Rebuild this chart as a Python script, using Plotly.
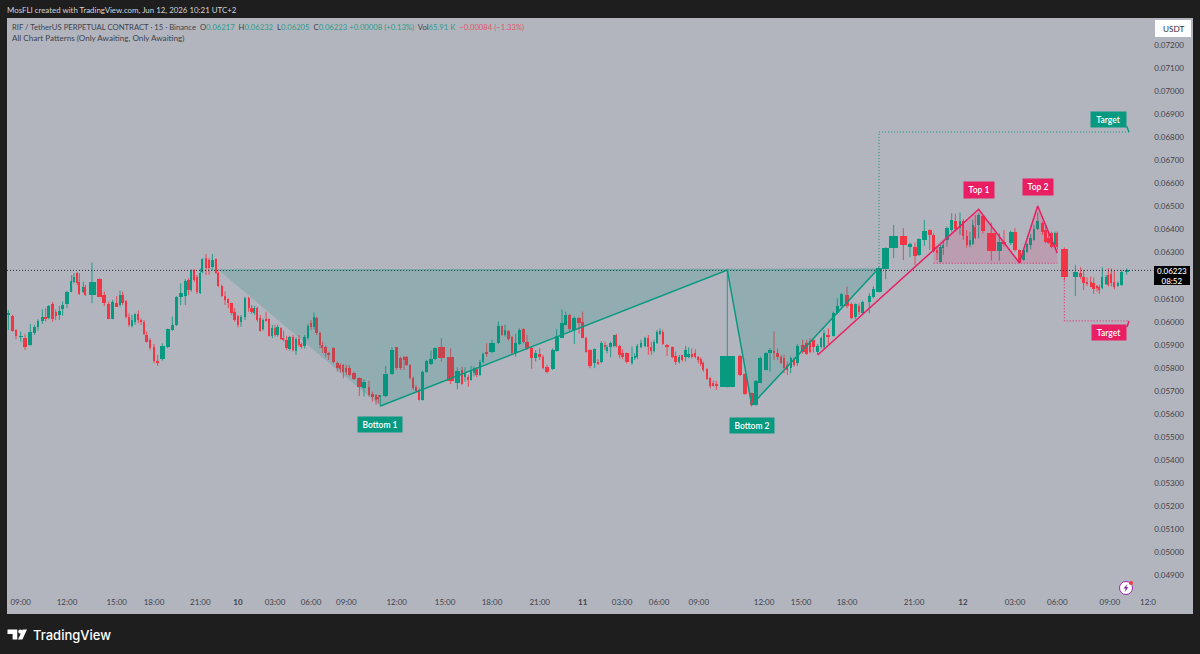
import numpy as np
import plotly.graph_objects as go

PRICE_SCALE = 100000.0
opens = [
 6031,6026,5965,5935,5929,5898,5953,5976,6002,6020,
 6015,6078,6044,6028,6056,6076,6131,6174,6211,6172,
 6131,6150,6117,6185,6117,6078,6014,6081,6073,6117,
 6091,6020,5982,6001,6034,6008,6001,5943,5922,5890,
 5832,5838,5893,5965,5987,6109,6112,6182,6138,6225,
 6193,6124,6218,6276,6268,6239,6271,6211,6156,6112,
 6098,6081,6044,6026,6000,6023,6102,6059,6037,6059,
 6015,5968,6011,6013,5939,5972,5943,5972,5929,5922,
 5881,5936,5875,5924,5904,5896,5929,5994,5976,6018,
 5953,5900,5893,5867,5885,5823,5813,5813,5799,5799,
 5780,5755,5712,5719,5687,5683,5676,5676,5679,5773,
 5890,5842,5849,5849,5813,5755,5719,5705,5661,5784,
 5817,5838,5893,5846,5737,5791,5763,5763,5748,5777,
 5796,5770,5828,5868,5868,5910,5982,5943,5961,5933,
 5864,5904,5969,5914,5888,5842,5861,5849,5806,5794,
 5875,5932,5987,6030,5965,6015,6001,5932,5878,5820,
 5828,5826,5900,5874,5890,5896,5943,5896,5864,5864,
 5823,5842,5849,5890,5896,5929,5893,5875,5910,5948,
 5958,5901,5890,5852,5828,5857,5846,5849,5861,5864,
 5846,5838,5823,5794,5758,5737,5731,5719,5852,5774,
 5690,5640,5737,5791,5864,5875,5864,5846,5842,5813,
 5799,5838,5820,5900,5910,5919,5922,5868,5893,5893,
 5940,5939,6037,6069,6117,6078,6023,6069,6037,6088,
 6109,6131,6231,6319,6372,6326,6326,6290,6355,6398,
 6375,6312,6261,6319,6355,6398,6435,6406,6439,6370,
 6333,6338,6413,6420,6459,6387,6309,6348,6341,6390,
 6312,6268,6304,6333,6355,6401,6427,6398,6362,6384,
 6333,6387,6315,6196,6213,6193,6174,6174,6167,6156,
 6153,6146,6164,6203,6208,6174,6156,6160,6217]
highs = [
 6052,6030,5968,5958,5946,5991,5987,6011,6054,6059,
 6073,6086,6054,6069,6088,6134,6203,6211,6215,6211,
 6174,6160,6257,6189,6131,6088,6095,6112,6135,6131,
 6095,6037,6030,6037,6049,6015,6008,5958,5929,5904,
 5857,5907,5971,6023,6112,6167,6185,6189,6228,6228,
 6203,6232,6276,6294,6276,6294,6276,6218,6160,6131,
 6102,6083,6059,6030,6030,6109,6109,6073,6069,6066,
 6030,6015,6044,6015,5987,5987,5987,5976,5962,5939,
 5939,5943,5933,5943,5910,5943,5991,6008,6040,6023,
 5958,5914,5896,5871,5890,5828,5820,5817,5813,5813,
 5784,5760,5751,5745,5698,5687,5683,5679,5809,5890,
 5890,5849,5852,5852,5817,5763,5726,5712,5789,5835,
 5875,5890,5929,5885,5803,5806,5803,5770,5809,5806,
 5803,5835,5867,5907,5922,6001,5985,5987,5965,5939,
 5948,5972,5972,5943,5893,5878,5885,5857,5813,5885,
 5968,6054,6044,6034,6023,6020,6044,5936,5881,5885,
 5838,5916,5914,5900,5914,5943,5948,5900,5881,5867,
 5893,5864,5904,5922,5936,5943,5914,5922,5965,5972,
 5965,5904,5893,5871,5857,5857,5896,5890,5885,5881,
 5852,5846,5828,5799,5760,5745,5745,6225,5857,5777,
 5693,5748,5849,5867,5885,5958,5885,5857,5857,5828,
 5849,5846,5903,5922,5922,5929,5924,5904,5936,5965,
 5972,6044,6102,6124,6153,6083,6080,6080,6092,6124,
 6153,6237,6323,6420,6406,6343,6343,6362,6442,6401,
 6384,6323,6333,6348,6413,6471,6468,6474,6445,6398,
 6391,6442,6463,6471,6463,6430,6384,6398,6395,6406,
 6315,6315,6341,6381,6420,6474,6435,6420,6391,6391,
 6391,6391,6323,6247,6237,6225,6193,6196,6193,6160,
 6160,6237,6203,6232,6232,6225,6174,6225,6232]
lows = [
 5965,5958,5924,5914,5878,5896,5943,5962,5991,6001,
 6011,6001,6008,6008,6026,6059,6128,6167,6160,6117,
 6124,6112,6081,6107,6069,6011,6011,6066,6066,6073,
 6015,5979,5976,5987,5994,5987,5943,5910,5878,5820,
 5809,5832,5885,5962,5982,6073,6073,6117,6131,6174,
 6121,6121,6211,6203,6203,6222,6208,6150,6109,6073,
 6059,6030,6001,5976,5979,6008,6044,6034,6030,6001,
 5958,5962,6001,5936,5929,5936,5936,5922,5914,5878,
 5875,5871,5857,5893,5885,5885,5924,5965,5968,5943,
 5885,5864,5846,5835,5820,5784,5780,5755,5770,5763,
 5748,5679,5676,5676,5654,5640,5647,5633,5673,5770,
 5792,5791,5791,5809,5751,5705,5698,5659,5659,5780,
 5813,5835,5828,5731,5708,5727,5741,5719,5745,5763,
 5760,5765,5820,5849,5864,5904,5939,5936,5919,5857,
 5849,5900,5907,5878,5796,5828,5835,5794,5777,5791,
 5871,5929,5984,5962,5904,5950,5929,5867,5799,5799,
 5813,5820,5878,5864,5846,5890,5890,5842,5838,5820,
 5813,5835,5838,5885,5890,5857,5857,5867,5904,5943,
 5900,5852,5842,5813,5820,5828,5828,5842,5842,5842,
 5820,5809,5784,5748,5712,5719,5705,5716,5765,5683,
 5633,5637,5734,5789,5784,5835,5835,5817,5777,5770,
 5777,5806,5809,5861,5857,5864,5867,5859,5885,5885,
 5904,5936,6034,6066,6059,6011,6011,6030,6034,6037,
 6102,6127,6185,6276,6268,6280,6247,6286,6329,6312,
 6300,6268,6257,6290,6326,6391,6391,6377,6355,6323,
 6323,6333,6358,6362,6384,6265,6265,6326,6333,6304,
 6254,6265,6300,6315,6352,6398,6377,6341,6338,6319,
 6319,6312,6179,6112,6185,6138,6156,6150,6121,6131,
 6121,6141,6160,6153,6153,6141,6153,6156,6205]
closes = [
 6037,5962,5939,5938,5890,5955,5976,6002,6020,6014,
 6070,6011,6026,6049,6072,6131,6177,6193,6167,6121,
 6153,6117,6173,6109,6081,6014,6088,6066,6117,6081,
 6020,5985,6008,6034,6008,5999,5946,5914,5885,5831,
 5823,5896,5968,5987,6109,6124,6179,6138,6225,6182,
 6128,6213,6274,6232,6232,6268,6211,6156,6112,6095,
 6081,6037,6008,5987,6023,6102,6059,6044,6059,6008,
 5962,6008,6005,5939,5972,5943,5976,5924,5922,5885,
 5933,5878,5924,5900,5893,5933,5982,5976,6020,5950,
 5900,5885,5864,5857,5828,5799,5794,5784,5784,5770,
 5751,5716,5741,5682,5676,5661,5664,5679,5774,5878,
 5799,5799,5835,5813,5755,5712,5702,5661,5784,5831,
 5838,5885,5842,5745,5787,5731,5777,5748,5791,5799,
 5770,5828,5861,5859,5910,5982,5943,5965,5924,5867,
 5907,5965,5914,5885,5845,5867,5846,5802,5784,5878,
 5939,5994,6030,5968,6015,5997,5932,5871,5809,5881,
 5820,5910,5890,5890,5907,5943,5896,5857,5846,5828,
 5849,5852,5896,5910,5929,5893,5875,5914,5958,5962,
 5904,5894,5849,5825,5849,5835,5878,5861,5849,5846,
 5835,5817,5791,5752,5722,5722,5722,5852,5770,5686,
 5640,5745,5842,5864,5878,5864,5846,5823,5799,5791,
 5842,5813,5896,5871,5861,5871,5893,5897,5929,5953,
 5936,6037,6069,6120,6069,6015,6078,6044,6088,6112,
 6141,6232,6319,6372,6333,6338,6286,6358,6395,6377,
 6309,6297,6323,6333,6406,6442,6401,6435,6370,6333,
 6355,6420,6362,6463,6394,6309,6346,6338,6390,6312,
 6257,6312,6338,6362,6401,6437,6391,6348,6341,6326,
 6387,6323,6193,6216,6193,6167,6163,6153,6141,6146,
 6138,6193,6193,6160,6167,6150,6167,6218,6223]
# volume-weighted bar spacing (bars are drawn with width following volume)
bar_steps = [
 13,10,14,13,16,13,10,13,10,9,12,9,11,10,13,14,7,10,6,12,6,20,23,14,13,12,12,10,8,10,
 9,9,9,10,8,9,8,10,12,11,14,16,14,12,13,14,10,8,9,8,10,7,10,9,10,11,7,10,10,10,
 10,9,10,9,12,11,9,9,8,9,8,9,9,10,8,8,10,8,9,9,10,9,9,8,9,10,9,9,8,10,
 8,9,9,14,12,9,9,9,9,14,16,14,15,10,11,7,6,16,19,14,12,10,8,10,10,8,10,10,12,13,
 12,19,28,20,14,9,10,8,9,8,10,9,11,16,19,11,9,10,11,11,11,12,11,14,12,12,10,12,17,12,
 16,11,12,14,14,11,10,12,14,10,10,11,6,11,10,7,10,9,12,16,8,8,11,12,10,9,8,9,9,8,
 13,16,10,11,9,10,9,9,11,9,7,8,11,10,9,9,33,38,15,20,13,13,17,12,12,11,10,9,10,10,
 10,10,16,12,10,10,13,11,8,13,15,12,12,17,13,12,11,11,20,12,17,20,24,29,20,15,12,16,16,12,
 10,11,8,11,14,11,14,10,10,10,8,8,10,13,25,24,14,20,13,13,13,10,11,10,11,15,9,9,9,10,
 7,21,33,16,9,10,11,9,10,7,9,11,7,9,9,11,11,15]
largest_volume_bar = 197
largest_volume_width = 44
# 0.06200 sits behind the last-price tag in the reference, so it is not drawn
price_ticks = [0.049,0.050,0.051,0.052,0.053,0.054,0.055,0.056,0.057,0.058,0.059,0.060,
               0.061,0.063,0.064,0.065,0.066,0.067,0.068,0.069,0.070,0.071,0.072]
time_labels = ["09:00","12:00","15:00","18:00","21:00","<b>10</b>","03:00","06:00","09:00","12:00",
               "15:00","18:00","21:00","<b>11</b>","03:00","06:00","09:00","12:00","15:00","18:00",
               "21:00","<b>12</b>","03:00","06:00","09:00","12:0"]
time_bars = [3,15,27,39,51,63,75,87,98,110,122.4,134,146,156,167.8,178.7,190.2,202.65,212.7,224,
             235.8,247.9,259,271,283.5,294.1]

# Pattern anchors: bar number + price
green_bars = [107,197,200,231]
green_prices = [0.05635,0.06225,0.05640,0.06233]
green_fill_start = (57,0.06225)
green_target_price = 0.06823
green_neck_price = 0.06225
red_bars = [217,253,260,265,271]
red_prices = [0.05856,0.06488,0.06256,0.06502,0.06298]
red_neck_price = 0.06254
red_target_price = 0.06004
red_target_start = (272,0.06189)
red_fill_start = (240,0.06324)
last_close = closes[-1]/PRICE_SCALE

GREEN = "#089981"; RED = "#F23645"; PINK = "#E91E63"
BG = "#B2B5BE"; DARK = "#1E1E1E"; TXT = "#3f424d"
DOT = "1px,2px"

assert len(opens)==len(highs)==len(lows)==len(closes), (len(opens),len(highs),len(lows),len(closes))
n = len(opens)
steps = (bar_steps + [10]*n)[:n-1]
o,h,l,c = [np.array(a)/PRICE_SCALE for a in (opens,highs,lows,closes)]
xs = 25.0 + np.concatenate([[0],np.cumsum(steps)])
prev = np.array([steps[0]]+list(steps)); nxt = np.array(list(steps)+[steps[-1]])
ws = np.minimum(0.65*(prev+nxt)-6.5, 1.25*np.minimum(prev,nxt)-4)
ws = np.clip(ws, 3.6, None)
ws[largest_volume_bar] = largest_volume_width

idx_ext = np.arange(n+12)
xs_ext = np.concatenate([xs, xs[-1]+10.5*np.arange(1,13)])
def bar_x(b): return float(np.interp(b, idx_ext, xs_ext))

L,R,T,B = 7,1193,18,614
def px(x): return (x-L)/(R-L)
def py(y): return 1-(y-T)/(B-T)

up = c>=o
fig = go.Figure()
fig.add_trace(go.Bar(x=xs, base=np.minimum(o,c), y=np.abs(o-c), width=ws,
    marker=dict(color=[GREEN if u else RED for u in up], line_width=0), hoverinfo="skip", showlegend=False))
for col,mask in ((GREEN,up),(RED,~up)):
    wx,wy=[],[]
    for xi,hi,lo in zip(xs[mask],h[mask],l[mask]):
        wx+= [xi,xi,None]; wy+=[hi,lo,None]
    fig.add_trace(go.Scatter(x=wx,y=wy,mode="lines",line=dict(color=col,width=1),opacity=0.85,hoverinfo="skip",showlegend=False))

def line(x,y,color,width=1.5,dash=None):
    fig.add_trace(go.Scatter(x=x,y=y,mode="lines",line=dict(color=color,width=width,dash=dash),hoverinfo="skip",showlegend=False))

line([21,bar_x(n-1+7.6)],[last_close,last_close],"#2a2e39",1,DOT)

gx=[bar_x(b) for b in green_bars]
fig.add_trace(go.Scatter(x=[bar_x(green_fill_start[0])]+gx+[bar_x(green_fill_start[0])],
    y=[green_fill_start[1]]+green_prices+[green_fill_start[1]],mode="lines",fill="toself",
    fillcolor="rgba(0,140,130,0.18)",line=dict(width=0),hoverinfo="skip",showlegend=False))
line(gx,green_prices,GREEN,1.5)
line([bar_x(green_fill_start[0]),gx[-1]],[green_neck_price]*2,GREEN,1,DOT)
target_end = xs[-1]+7
line([gx[-1],gx[-1],target_end],[green_neck_price,green_target_price,green_target_price],GREEN,1,DOT)
line([target_end-7,target_end],[0.06848,green_target_price],GREEN,1.5)

rx=[bar_x(b) for b in red_bars]
fig.add_trace(go.Scatter(x=[bar_x(red_fill_start[0])]+rx[1:]+[rx[-1],bar_x(red_fill_start[0])],
    y=[red_fill_start[1]]+red_prices[1:]+[red_neck_price,red_neck_price],mode="lines",fill="toself",
    fillcolor="rgba(233,30,99,0.16)",line=dict(width=0),hoverinfo="skip",showlegend=False))
line(rx,red_prices,PINK,1.5)
line([bar_x(red_fill_start[0]),rx[-1]],[red_neck_price]*2,PINK,1,DOT)
rtx=bar_x(red_target_start[0])
line([rtx,rtx,target_end],[red_target_start[1],red_target_price,red_target_price],PINK,1,DOT)
line([target_end-6,target_end],[0.05978,red_target_price],PINK,1.5)

def chart_label(text,bar,price,color,w,hh=15):
    fig.add_annotation(x=bar_x(bar),y=price,xref="x",yref="y",text=text,showarrow=False,
        font=dict(family="Lato",size=8.5,color="white",weight=600),bgcolor=color,width=w,height=hh,
        xanchor="center",yanchor="middle",borderpad=0)
chart_label("Bottom 1",107,0.05553,GREEN,44)
chart_label("Bottom 2",200,0.05549,GREEN,44)
chart_label("Top 1",253,0.06573,PINK,30,16)
chart_label("Top 2",265,0.06586,PINK,30,16)
chart_label("Target",283.1,0.06875,GREEN,35,15)
chart_label("Target",283.1,0.05952,PINK,34,15)

def chrome_text(text,x,y,size,color,anchor="left",family="Lato",weight=None):
    fig.add_annotation(xref="paper",yref="paper",x=px(x),y=py(y),text=text,showarrow=False,
        xanchor=anchor,yanchor="middle",font=dict(family=family,size=size,color=color,weight=weight),borderpad=0)

chrome_text("MosFLI created with TradingView.com, Jun 12, 2026 10:21 UTC+2",6,10,7.9,"#d1d4dc")
g="#2f9c8c"; r="#e0566a"
def s(t,col): return f'<span style="color:{col}">{t}</span>'
legend=("RIF / TetherUS PERPETUAL CONTRACT · 15 · Binance  O"+s("0.06217",g)+"  H"+s("0.06232",g)+"  L"+s("0.06205",g)+"  C"+s("0.06223",g)
        +" "+s("+0.00008 (+0.13%)",g)+"  Vol"+s("65.91 K",g)+"  "+s("−0.00084 (−1.33%)",r))
chrome_text(legend,11,27,7.7,TXT)
chrome_text("All Chart Patterns (Only Awaiting, Only Awaiting)",11,38.5,8.1,TXT)

shapes=[]
def rect(x0,y0,x1,y1,col):
    shapes.append(dict(type="rect",xref="paper",yref="paper",x0=px(x0),x1=px(x1),y0=py(y0),y1=py(y1),fillcolor=col,line_width=0,layer="above"))
def poly(pts,col):
    d="M "+" L ".join(f"{px(a):.5f},{py(b):.5f}" for a,b in pts)+" Z"
    shapes.append(dict(type="path",xref="paper",yref="paper",path=d,fillcolor=col,line_width=0,layer="above"))
def circle(cx,cy,rad,col,lc=None,lw=0):
    shapes.append(dict(type="circle",xref="paper",yref="paper",x0=px(cx-rad),x1=px(cx+rad),y0=py(cy-rad),y1=py(cy+rad),
        fillcolor=col,line=dict(color=lc or col,width=lw),layer="above"))

rect(1155,20,1191,37,"#FFFFFF")
chrome_text("USDT",1173,29,8.2,"#2a2e39","center")
rect(1154,266,1190,285,"#000000")
chrome_text("0.06223<br>08:52",1172,275.5,8,"#FFFFFF","center",weight=500)
circle(1126,588,6.5,"#FFFFFF","#9c27b0",1)
poly([(1127.5,584),(1123.5,588.6),(1125.8,588.6),(1124.5,592),(1128.5,587.2),(1126.2,587.2)],"#7b1fa2")
circle(1131,583,2,"#F23645")
poly([(7.5,629.5),(17.3,629.5),(17.3,639.5),(12.6,639.5),(12.6,634),(7.5,634)],"#FFFFFF")
circle(20.3,631.6,2.1,"#FFFFFF")
poly([(22.6,629.5),(27,629.5),(22.4,639.5),(18,639.5)],"#FFFFFF")
chrome_text("TradingView",32,634.5,13,"#FFFFFF","left","Inter",500)

fig.update_layout(
    width=1200,height=654,autosize=False,margin=dict(l=L,r=1200-R,t=T,b=654-B,pad=0),
    paper_bgcolor=DARK,plot_bgcolor=BG,barmode="overlay",bargap=0,showlegend=False,
    font=dict(family="Lato",size=8,color=TXT),shapes=shapes,
    xaxis=dict(range=[21,3579],showgrid=False,zeroline=False,showline=False,tickmode="array",
        tickvals=[bar_x(b) for b in time_bars],ticktext=time_labels,ticks="",ticklabelposition="inside",
        tickfont=dict(family="Lato",size=8,color=TXT),ticklabelstandoff=4),
    yaxis=dict(range=[0.072-(B-45)/23070,0.072+(45-T)/23070],side="right",showgrid=False,zeroline=False,showline=False,
        tickmode="array",tickvals=price_ticks,tickformat=".5f",ticks="",ticklabelposition="inside",
        tickfont=dict(family="Lato",size=8,color=TXT),ticklabelstandoff=6),
)
fig.write_html("out.html",config=dict(displayModeBar=False),
    post_script="document.body.style.margin='0';document.body.style.background='#1E1E1E';")
